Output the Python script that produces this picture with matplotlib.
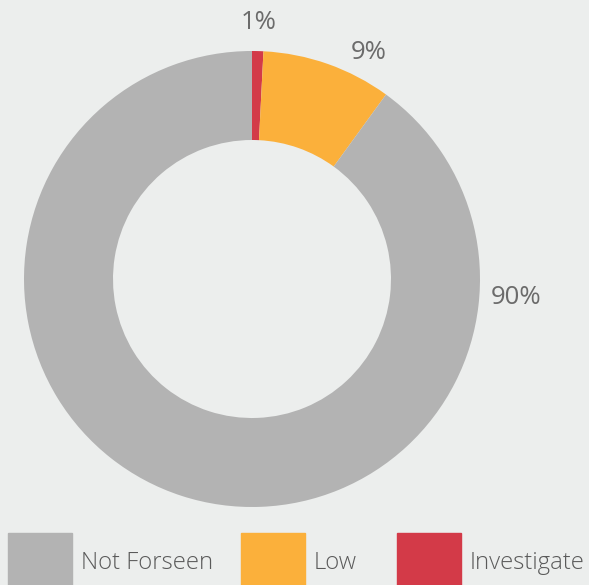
import numpy as np
import matplotlib.pyplot as plt
from matplotlib.patches import Rectangle

# data ------------------------------------------------------------
categories = ["Not Forseen", "Low", "Investigate"]
values = [90.0, 9.2, 0.8]
pct_labels = ["90%", "9%", "1%"]
colors = ["#b3b3b3", "#fbb03b", "#d33a48"]

# label placement (degrees from top, clockwise) and radius
label_angles = [94, 27.3, 1.4]
label_radius = [1.16, 1.12, 1.125]

bg = "#eceeed"
W, H = 589, 585
cx, cy, R = 252, 279, 228  # donut center / radius in pixels

fig = plt.figure(figsize=(W / 100, H / 100), dpi=100, facecolor=bg)
ax = fig.add_axes([0, 0, 1, 1])
ax.set_facecolor(bg)

# drawn clockwise from top: Investigate, Low, Not Forseen
order = [2, 1, 0]
ax.pie([values[i] for i in order], colors=[colors[i] for i in order],
       startangle=90, counterclock=False, radius=1,
       wedgeprops=dict(width=1 - 139 / 228, linewidth=0))
ax.set_aspect("auto")
ax.set_xlim(-cx / R, (W - cx) / R)
ax.set_ylim(-(H - cy) / R, cy / R)
ax.axis("off")

for lab, ang, r in zip(pct_labels, label_angles, label_radius):
    a = np.deg2rad(ang)
    ax.text(r * np.sin(a), r * np.cos(a), lab, ha="center", va="center",
            fontsize=18.5, color="#6b6b6b", family="Open Sans")

# legend at the bottom
legend_x = [8, 241, 397]
for x0, name, c in zip(legend_x, categories, colors):
    fig.patches.append(Rectangle((x0 / W, 0), 64 / W, 52 / H,
                                 transform=fig.transFigure, color=c))
    fig.text((x0 + 73) / W, 22 / H, name, ha="left", va="center",
             fontsize=17.2, color="#5a5a5a", family="Open Sans",
             fontweight="light")

fig.savefig("out.png", dpi=100, facecolor=bg)
